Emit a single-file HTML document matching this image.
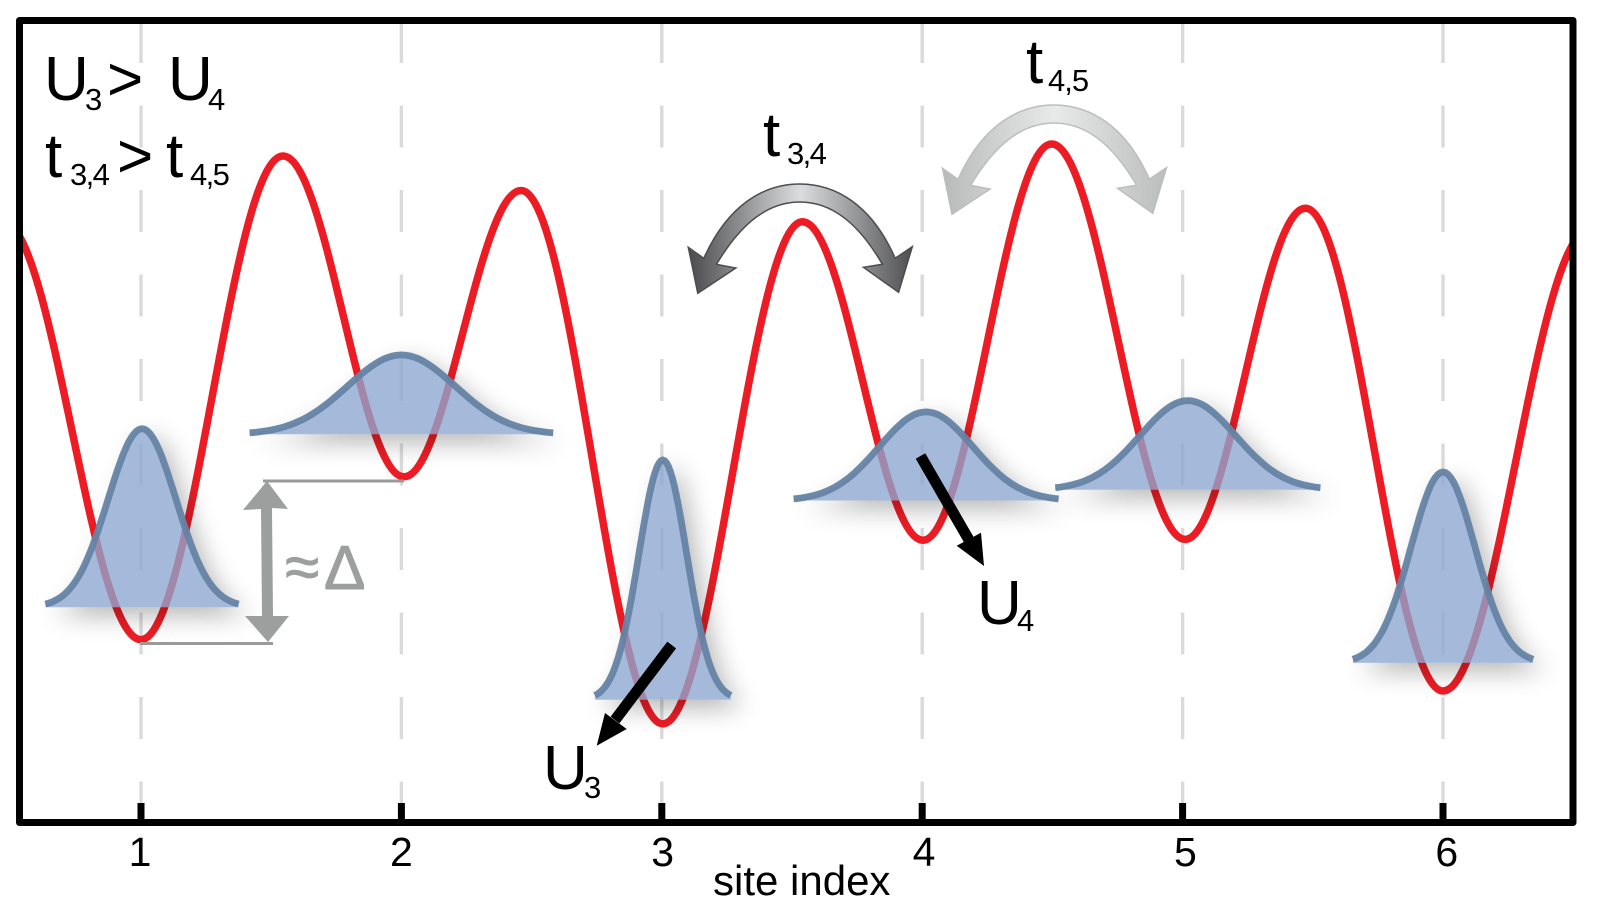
<!DOCTYPE html>
<html lang="en">
<head>
<meta charset="utf-8">
<title>Disordered lattice potential with site index</title>
<style>
html,body{margin:0;padding:0;background:#fff;}
svg{display:block;}
text{font-family:"Liberation Sans",sans-serif;fill:#000;}
.big{font-size:62px;}
.sub{font-size:31px;}
.tight{letter-spacing:-1.6px;}
.tick{font-size:41px;text-anchor:middle;}
.gray-sym{fill:#9d9f9e;stroke:#9d9f9e;stroke-width:1px;}
</style>
</head>
<body>
<svg id="chart" xmlns="http://www.w3.org/2000/svg" width="1600" height="900" viewBox="0 0 1600 900">
  <defs>
    <clipPath id="plot-clip"><rect x="22" y="23" width="1548" height="797"/></clipPath>
    <filter id="packet-shadow" x="-50%" y="-50%" width="200%" height="220%">
      <feGaussianBlur in="SourceAlpha" stdDeviation="13"/>
      <feOffset dx="10" dy="8"/>
      <feComponentTransfer><feFuncA type="linear" slope="0.3"/></feComponentTransfer>
      <feComposite in2="SourceAlpha" operator="out"/>
    </filter>
    <linearGradient id="dark-arrow-gradient" x1="0" y1="0" x2="1" y2="0">
      <stop offset="0" stop-color="#4a4a4c"/>
      <stop offset="0.5" stop-color="#dcddde"/>
      <stop offset="1" stop-color="#4f4f51"/>
    </linearGradient>
    <linearGradient id="light-arrow-gradient" x1="0" y1="0" x2="1" y2="0">
      <stop offset="0" stop-color="#b8baba"/>
      <stop offset="0.5" stop-color="#e8e9e9"/>
      <stop offset="1" stop-color="#bbbdbd"/>
    </linearGradient>
  </defs>
  <rect x="0" y="0" width="1600" height="900" fill="#fff"/>
  <g id="grid-layer"></g>
  <g id="potential-layer" clip-path="url(#plot-clip)"></g>
  <g id="shadow-layer"></g>
  <g id="packet-layer"></g>

  <g>
    <line x1="263" y1="481" x2="404" y2="481" stroke="#999a99" stroke-width="3"/>
    <line x1="140" y1="643.5" x2="273" y2="643.5" stroke="#999a99" stroke-width="3"/>
    <polygon fill="#9d9f9e" points="267,481 288,509 272,508 273,616 289,616 268,642 245,616 262,616 261,509 243,510"/>
    <text x="285" y="588" class="big gray-sym">≈</text>
    <text x="324" y="589" class="big gray-sym">Δ</text>
  </g>

  <g transform="translate(0.8,0)">
    <path fill="url(#dark-arrow-gradient)" stroke="#4d4d4f" stroke-width="1.5" d="M697,293.3 L687.5,247.3 L703,258.3 C727,205 763,184 799,184 C835,184 871,205 894.4,258.3 L911.5,246.7 L897.8,292.3 L862.7,267.3 L881.6,264.3 C857,222 830,202 799,202 C768,202 741,222 715.7,264.3 L735,268 Z"/>
  </g>
  <g transform="translate(255,-79)">
    <path fill="url(#light-arrow-gradient)" stroke="#bcbebe" stroke-width="1.5" d="M697,293.3 L687.5,247.3 L703,258.3 C727,205 763,184 799,184 C835,184 871,205 894.4,258.3 L911.5,246.7 L897.8,292.3 L862.7,267.3 L881.6,264.3 C857,222 830,202 799,202 C768,202 741,222 715.7,264.3 L735,268 Z"/>
  </g>

  <g>
    <line x1="671.7" y1="645" x2="615" y2="720" stroke="#000" stroke-width="11"/>
    <polygon points="596.7,745.7 605,713 626.7,729"/>
  </g>
  <g>
    <line x1="920.5" y1="456" x2="969" y2="540" stroke="#000" stroke-width="11"/>
    <polygon points="984,566 956.7,545.7 981,532.7"/>
  </g>

  <g>
    <text x="44" y="100" class="big">U</text>
    <text x="85" y="110" class="sub">3</text>
    <text x="107" y="100" class="big">&gt;</text>
    <text x="168" y="100" class="big">U</text>
    <text x="208" y="110" class="sub">4</text>
  </g>
  <g>
    <text x="45" y="177" class="big">t</text>
    <text x="70" y="185" class="sub tight">3,4</text>
    <text x="117" y="177" class="big">&gt;</text>
    <text x="166" y="177" class="big">t</text>
    <text x="190" y="185" class="sub tight">4,5</text>
  </g>

  <text x="763" y="156" class="big">t</text>
  <text x="787" y="164" class="sub tight">3,4</text>
  <text x="1026" y="83" class="big">t</text>
  <text x="1048" y="91" class="sub" style="letter-spacing:-1px">4,5</text>
  <text x="543" y="789" class="big">U</text>
  <text x="584" y="798" class="sub">3</text>
  <text x="977" y="624" class="big">U</text>
  <text x="1017" y="631" class="sub">4</text>

  <rect x="19.5" y="20.5" width="1553.5" height="802" fill="none" stroke="#000" stroke-width="7" stroke-linejoin="round"/>
  <g id="tick-layer"></g>
  <text x="713" y="895" style="font-size:42px">site index</text>
</svg>

<script>
// Site tick labels
const siteTicks = [1, 2, 3, 4, 5, 6];

// Red potential: turning points (site position, energy)
const potentialSites = [0.47, 1.0, 1.545, 2.01, 2.46, 3.004, 3.54, 4.003, 4.497, 5.01, 5.472, 6.0, 6.56];
const potentialValues = [74.9, 22.8, 83.1, 43.1, 78.8, 12.3, 74.9, 35.2, 84.6, 35.3, 76.6, 16.4, 73.8];

// Wavepackets: centre, peak energy, baseline energy, spread, half span (site units)
const packetCenters = [1.004, 2.0, 3.004, 4.015, 5.02, 6.0];
const packetPeaks = [49.1, 58.3, 45.2, 51.2, 52.6, 43.7];
const packetBases = [26.85, 48.4, 15.3, 40.15, 41.5, 19.9];
const packetSpreads = [0.13, 0.207, 0.092, 0.18, 0.184, 0.123];
const packetSpans = [0.371, 0.583, 0.261, 0.509, 0.509, 0.346];

const NS = 'http://www.w3.org/2000/svg';
function xScale(site) { return 141 + 260.4 * (site - 1); }
function yScale(value) { return 822.5 - 8.02 * value; }
function mk(tag, attrs, parent) {
  const el = document.createElementNS(NS, tag);
  for (const k in attrs) el.setAttribute(k, attrs[k]);
  parent.appendChild(el);
  return el;
}

const gridLayer = document.getElementById('grid-layer');
const tickLayer = document.getElementById('tick-layer');
siteTicks.forEach(function (s) {
  const x = xScale(s);
  const grid = mk('line', { x1: x, x2: x, y1: 21, y2: 803, stroke: '#d9dbdb', 'stroke-width': 3.4, 'stroke-dasharray': '42 42.5' }, gridLayer);
  
  
  const tick = mk('line', { x1: x, x2: x, y1: 803, y2: 822, stroke: '#000', 'stroke-width': 7 }, tickLayer);
  
  
  const label = mk('text', { x: x - 1 + (s - 1) * 0.95, y: 866, class: 'tick' }, tickLayer);
  label.textContent = s;
  
  
});

// Potential: smooth segments with flat tangents at each turning point
const k = 0.3642;
let d = 'M' + xScale(potentialSites[0]).toFixed(1) + ',' + yScale(potentialValues[0]).toFixed(1);
for (let i = 1; i < potentialSites.length; i++) {
  const x0 = xScale(potentialSites[i - 1]), x1 = xScale(potentialSites[i]);
  const y0 = yScale(potentialValues[i - 1]), y1 = yScale(potentialValues[i]);
  const dx = x1 - x0;
  d += ' C' + (x0 + k * dx).toFixed(1) + ',' + y0.toFixed(1) + ' ' + (x1 - k * dx).toFixed(1) + ',' + y1.toFixed(1) + ' ' + x1.toFixed(1) + ',' + y1.toFixed(1);
}
const potential = mk('path', { d: d, fill: 'none', stroke: '#ed1c24', 'stroke-width': 7.5 }, document.getElementById('potential-layer'));



const shadowLayer = document.getElementById('shadow-layer');
const packetLayer = document.getElementById('packet-layer');
packetCenters.forEach(function (c, i) {
  const steps = 70;
  const pts = [];
  for (let j = 0; j <= steps; j++) {
    const s = c - packetSpans[i] + 2 * packetSpans[i] * j / steps;
    const g = Math.exp(-Math.pow(s - c, 2) / (2 * packetSpreads[i] * packetSpreads[i]));
    const v = packetBases[i] + (packetPeaks[i] - packetBases[i]) * g;
    pts.push(xScale(s).toFixed(1) + ',' + yScale(v).toFixed(1));
  }
  const line = 'M' + pts.join(' L');
  const baseY = yScale(packetBases[i]).toFixed(1);
  const area = line + ' L' + xScale(c + packetSpans[i]).toFixed(1) + ',' + baseY + ' L' + xScale(c - packetSpans[i]).toFixed(1) + ',' + baseY + ' Z';
  const shadow = mk('path', { d: area, fill: '#000', filter: 'url(#packet-shadow)' }, shadowLayer);
  
  
  const fill = mk('path', { d: area, fill: '#8ca7cf', 'fill-opacity': 0.78 }, packetLayer);
  
  
  const stroke = mk('path', { d: line, fill: 'none', stroke: '#6583a5', 'stroke-width': 6.8, 'stroke-opacity': 0.95 }, packetLayer);
  
  
});
</script>
</body>
</html>
